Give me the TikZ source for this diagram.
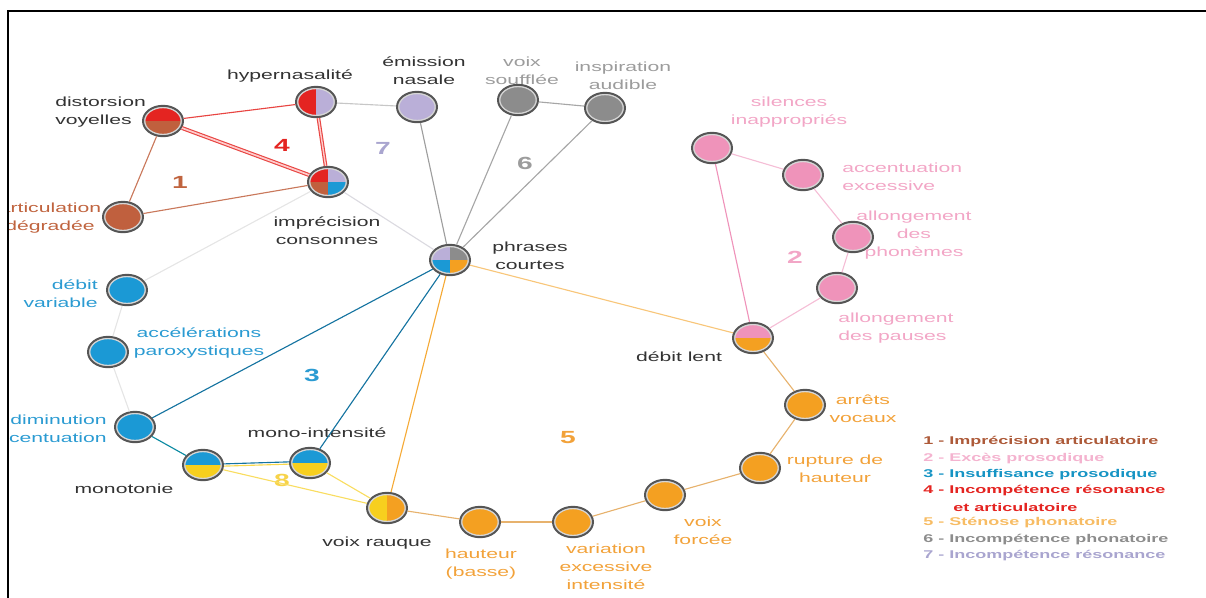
\documentclass[tikz,border=0pt]{standalone}
\usepackage{fontspec}
\setmainfont{Liberation Sans}[FakeStretch=1.6]
\usetikzlibrary{shapes.geometric}

\definecolor{cbrown}{HTML}{C0603E}
\definecolor{cred}{HTML}{E42421}
\definecolor{clav}{HTML}{BAAFD8}
\definecolor{cgray}{HTML}{8C8C8C}
\definecolor{cpink}{HTML}{EF93BA}
\definecolor{cblue}{HTML}{1B99D5}
\definecolor{corange}{HTML}{F4A021}
\definecolor{cyellow}{HTML}{F7CF1E}
\definecolor{ring}{HTML}{555555}
\definecolor{ringin}{HTML}{D6D6D6}
\definecolor{txt}{HTML}{333333}
\definecolor{tbrown}{HTML}{C0643F}
\definecolor{tblue}{HTML}{2B9BD2}
\definecolor{tpink}{HTML}{F2A6C6}
\definecolor{torange}{HTML}{F2A23A}
\definecolor{tgray}{HTML}{9C9C9C}
\definecolor{tlav}{HTML}{A9A5CF}
\definecolor{tyellow}{HTML}{F7D34A}

\newcommand{\innerring}{\draw[ringin, line width=3.4pt] (path picture bounding box.center) ellipse (0.5cm and 0.38cm);}

\begin{document}
\begin{tikzpicture}[
  x=0.025cm, y=-0.025cm,
  v/.style={ellipse, draw=ring, line width=1.4pt, minimum width=1cm, minimum height=0.76cm,
    inner sep=0pt, fill=#1, path picture={\innerring}},
  tb/.style 2 args={path picture={
    \fill[#1] (path picture bounding box.north west) rectangle (path picture bounding box.east);
    \fill[#2] (path picture bounding box.west) rectangle (path picture bounding box.south east);
    \innerring}},
  lr/.style 2 args={path picture={
    \fill[#1] (path picture bounding box.north west) rectangle (path picture bounding box.south);
    \fill[#2] (path picture bounding box.north) rectangle (path picture bounding box.south east);
    \innerring}},
  quad/.style n args={4}{path picture={
    \fill[#1] (path picture bounding box.north west) rectangle (path picture bounding box.center);
    \fill[#2] (path picture bounding box.north) rectangle (path picture bounding box.east);
    \fill[#3] (path picture bounding box.west) rectangle (path picture bounding box.south);
    \fill[#4] (path picture bounding box.center) rectangle (path picture bounding box.south east);
    \innerring}},
  lbl/.style={text=txt, font=\fontsize{9.4}{12.8}\selectfont, align=center, inner sep=0pt},
  num/.style={font=\fontsize{12.5}{13}\selectfont\bfseries, inner sep=0pt},
  leg/.style={font=\fontsize{8}{10}\selectfont\bfseries, anchor=west, inner sep=0pt},
  e/.style={line width=0.8pt}
]
\useasboundingbox (0,0) rectangle (1206,598);
\begin{scope}
\clip (8,11) rectangle (1206,598);

% symptoms
\node[v, tb={cred}{cbrown}] (dv) at (163,121) {};
\node[v, lr={cred}{clav}] (hy) at (316,102) {};
\node[v=clav] (em) at (417,107) {};
\node[v=cgray] (vs) at (518,100) {};
\node[v=cgray] (ia) at (605,108) {};
\node[v, quad={cred}{clav}{cbrown}{cblue}] (ic) at (328,182) {};
\node[v=cbrown] (ad) at (123,217) {};
\node[v, quad={clav}{cgray}{cblue}{corange}] (pc) at (450,260) {};
\node[v=cpink] (si) at (712,148) {};
\node[v=cpink] (ae) at (803,175) {};
\node[v=cpink] (ap) at (853,237) {};
\node[v=cpink] (pa) at (837,288) {};
\node[v, tb={cpink}{corange}] (dl) at (753,338) {};
\node[v=corange] (av) at (805,405) {};
\node[v=corange] (rh) at (760,468) {};
\node[v=corange] (vf) at (665,495) {};
\node[v=corange] (ve) at (573,522) {};
\node[v=corange] (hb) at (480,522) {};
\node[v, lr={cyellow}{corange}] (vr) at (387,508) {};
\node[v, tb={cblue}{cyellow}] (mo) at (203,465) {};
\node[v, tb={cblue}{cyellow}] (mi) at (310,463) {};
\node[v=cblue] (da) at (135,427) {};
\node[v=cblue] (ac) at (108,352) {};
\node[v=cblue] (dvb) at (127,290) {};

% labels
\node[lbl, anchor=west, align=left] (tdv) at (55,112) {distorsion\\voyelles};
\node[lbl] (thy) at (290,76) {hypernasalité};
\node[lbl] (tem) at (424,71) {émission\\nasale};
\node[lbl, text=tgray] (tvs) at (522,71) {voix\\soufflée};
\node[lbl, text=tgray] (tia) at (623,76) {inspiration\\audible};
\node[lbl] (tic) at (327,231) {imprécision\\consonnes};
\node[lbl, text=tbrown] (tad) at (50,218) {articulation\\dégradée};
\node[lbl] (tpc) at (530,256) {phrases\\courtes};
\node[lbl, text=tpink] (tsi) at (789,112) {silences\\inappropriés};
\node[lbl, text=tpink, anchor=west, align=left] (tae) at (842,177) {accentuation\\excessive};
\node[lbl, text=tpink] (tap) at (914,235) {allongement\\des\\phonèmes};
\node[lbl, text=tpink, anchor=west, align=left] (tpa) at (838,328) {allongement\\des pauses};
\node[lbl] (tdl) at (679,357) {débit lent};
\node[lbl, text=torange] (tav) at (863,409) {arrêts\\vocaux};
\node[lbl, text=torange] (trh) at (835,469) {rupture de\\hauteur};
\node[lbl, text=torange] (tvf) at (703,531) {voix\\forcée};
\node[lbl, text=torange] (tve) at (606,567) {variation\\excessive\\intensité};
\node[lbl, text=torange] (thb) at (481,564) {hauteur\\(basse)};
\node[lbl] (tvr) at (377,543) {voix rauque};
\node[lbl] (tmo) at (124,489) {monotonie};
\node[lbl] (tmi) at (317,433) {mono-intensité};
\node[lbl, text=tblue, anchor=east, align=right] (tda) at (107,429) {diminution\\accentuation};
\node[lbl, text=tblue] (tac) at (199,343) {accélérations\\paroxystiques};
\node[lbl, text=tblue, anchor=east, align=right] (tdvb) at (98,294) {débit\\variable};

% group numbers
\node[num, text=tbrown] (n1) at (180,182) {1};
\node[num, text=tpink] (n2) at (795,257) {2};
\node[num, text=tblue] (n3) at (312,375) {3};
\node[num, text=cred] (n4) at (282,145) {4};
\node[num, text=torange] (n5) at (568,438) {5};
\node[num, text=tgray] (n6) at (525,163) {6};
\node[num, text=tlav] (n7) at (383,148) {7};
\node[num, text=tyellow] (n8) at (282,480) {8};

% undirected edges
\draw[e, cbrown!85] (dv) -- (ad);
\draw[e, cbrown!85] (ad) -- (ic);
\draw[e, cred!85] (dv) -- (hy);
\draw[e, cred!85, double=red!20, double distance=1.2pt] (dv) -- (ic);
\draw[e, cred!85, double=red!20, double distance=1pt] (hy) -- (ic);
\draw[e, black!22] (hy) -- (em);
\draw[e, black!38] (em) -- (pc);
\draw[e, clav!60!black!25] (ic) -- (pc);
\draw[e, black!35] (vs) -- (ia);
\draw[e, black!35] (vs) -- (pc);
\draw[e, black!35] (ia) -- (pc);
\draw[e, black!10] (dvb) -- (ic);
\draw[e, black!10] (dvb) -- (ac);
\draw[e, black!10] (ac) -- (da);
\draw[e, teal!60!cblue] (da) -- (mo);
\draw[e, cblue!75!black] (da) -- (pc);
\draw[e, cblue!75!black] (mi) -- (pc);
\draw[e, cblue!75!black] ([yshift=0.8pt]mo.east) -- ([yshift=0.8pt]mi.west);
\draw[e, cyellow!80] ([yshift=-0.8pt]mo.east) -- ([yshift=-0.8pt]mi.west);
\draw[e, cyellow!70] (mo) -- (vr);
\draw[e, cyellow!70] (mi) -- (vr);
\draw[e, corange!90] (pc) -- (vr);
\draw[e, corange!60] (pc) -- (dl);
\draw[e, corange!55!brown!70] (dl) -- (av);
\draw[e, corange!55!brown!70] (av) -- (rh);
\draw[e, corange!55!brown!70] (rh) -- (vf);
\draw[e, corange!55!brown!70] (vf) -- (ve);
\draw[e, corange!55!brown!70] (ve) -- (hb);
\draw[e, corange!55!brown!70] (hb) -- (vr);
\draw[e, cpink!60] (si) -- (ae);
\draw[e, cpink!60] (ae) -- (ap);
\draw[e, cpink!60] (ap) -- (pa);
\draw[e, cpink!60] (pa) -- (dl);
\draw[e, cpink] (si) -- (dl);

% legend
\node[leg, text=tbrown!90!black] (leg1) at (923,442) {1 - Imprécision articulatoire};
\node[leg, text=tpink!85] (leg2) at (923,459) {2 - Excès prosodique};
\node[leg, text=cblue!80!teal] (leg3) at (923,475) {3 - Insuffisance prosodique};
\node[leg, text=cred] (leg4) at (923,491) {4 - Incompétence résonance};
\node[leg, text=cred] (leg4b) at (953,507) {et articulatoire};
\node[leg, text=corange!70] (leg5) at (923,523) {5 - Sténose phonatoire};
\node[leg, text=tgray!90!black] (leg6) at (923,540) {6 - Incompétence phonatoire};
\node[leg, text=tlav] (leg7) at (923,556) {7 - Incompétence résonance};
\end{scope}

% frame
\draw[line width=1.6pt] (8,598) -- (8,11) -- (1206,11);
\end{tikzpicture}
\end{document}
